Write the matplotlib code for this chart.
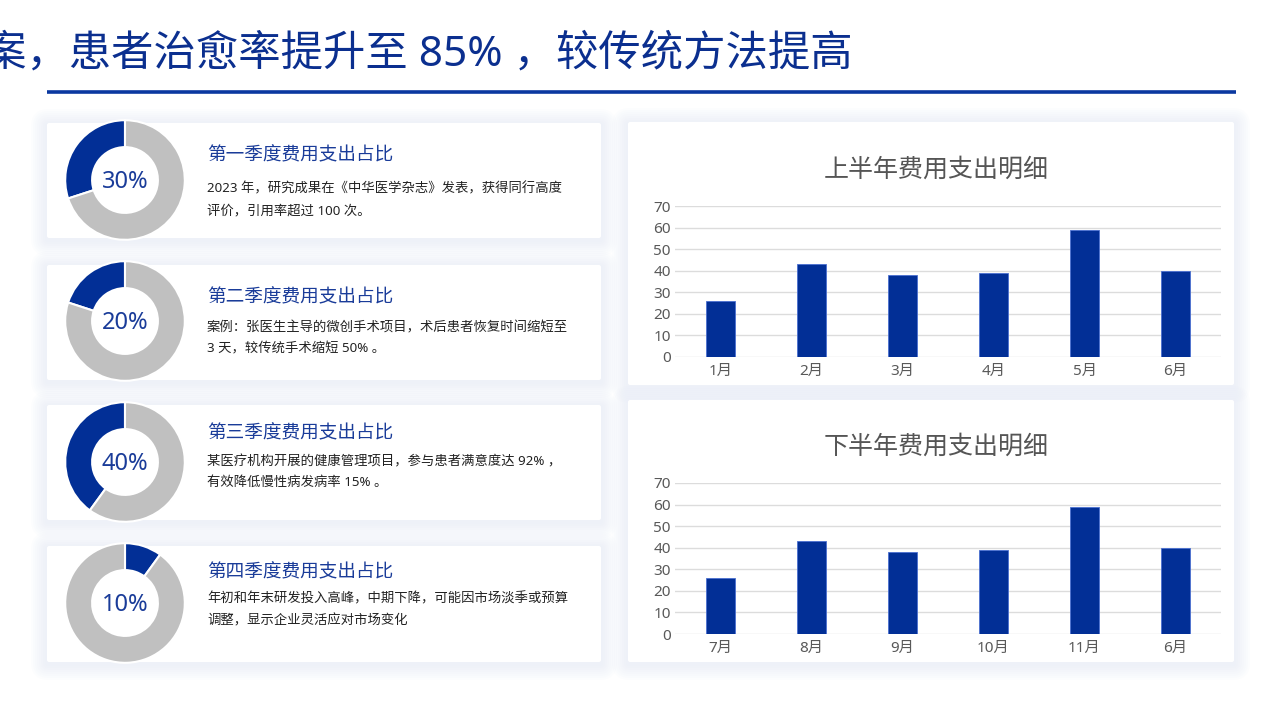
import numpy as np
import matplotlib
matplotlib.use("Agg")
import matplotlib.pyplot as plt
from matplotlib.patches import FancyBboxPatch

plt.rcParams['font.family'] = ['Noto Sans', 'Noto Sans CJK SC', 'DejaVu Sans']

W, H = 1280, 719

title = "案，患者治愈率提升至 85% ，较传统方法提高"

# quarterly donut cards
q_titles = ["第一季度费用支出占比", "第二季度费用支出占比",
            "第三季度费用支出占比", "第四季度费用支出占比"]
q_pcts = [30, 20, 40, 10]
q_ccw = [True, True, True, False]
q_texts = [
    ["2023 年，研究成果在《中华医学杂志》发表，获得同行高度", "评价，引用率超过 100 次。"],
    ["案例：张医生主导的微创手术项目，术后患者恢复时间缩短至", "3 天，较传统手术缩短 50% 。"],
    ["某医疗机构开展的健康管理项目，参与患者满意度达 92% ，", "有效降低慢性病发病率 15% 。"],
    ["年初和年末研发投入高峰，中期下降，可能因市场淡季或预算", "调整，显示企业灵活应对市场变化"],
]

# bar charts
h1_title = "上半年费用支出明细"
h1_months = ["1月", "2月", "3月", "4月", "5月", "6月"]
h1_values = [26, 43, 38, 39, 59, 40]
h2_title = "下半年费用支出明细"
h2_months = ["7月", "8月", "9月", "10月", "11月", "6月"]
h2_values = [26, 43, 38, 39, 59, 40]

BLUE = "#022f96"
TXT_BLUE = "#1a3c99"
GREY = "#c0c0c0"


def fx(x):
    return x / W


def fy(y):
    return 1 - y / H


def add_axes(x, y, w, h):
    return fig.add_axes([x / W, 1 - (y + h) / H, w / W, h / H])


fig = plt.figure(figsize=(12.8, 7.19), dpi=100)
fig.patch.set_facecolor("white")

# background layer in pixel coordinates
bg = fig.add_axes([0, 0, 1, 1], zorder=0)
bg.set_xlim(0, W)
bg.set_ylim(H, 0)
bg.axis("off")


def card(x0, y0, x1, y1):
    # soft shadow: many faint layers
    for pad in range(16, 0, -2):
        bg.add_patch(FancyBboxPatch((x0 - pad, y0 - pad + 2), x1 - x0 + 2 * pad, y1 - y0 + 2 * pad,
                                    boxstyle=f"round,pad=0,rounding_size={pad + 2}",
                                    fc="#e4e9f8", ec="none", alpha=0.09))
    bg.add_patch(FancyBboxPatch((x0, y0), x1 - x0, y1 - y0,
                                boxstyle="round,pad=0,rounding_size=2",
                                fc="white", ec="none"))


card_rows = [(123, 238), (265, 380), (405, 520), (546, 662)]
for y0, y1 in card_rows:
    card(47, y0, 601, y1)
card(628, 122, 1234, 385)
card(628, 400, 1234, 662)

# title + rule
fig.text(fx(853), fy(55), title, ha="right", va="center", fontsize=30.5,
         color="#0b2f8f")
bg.plot([47, 1236], [92, 92], color="#0a38a0", lw=2.6, solid_capstyle="butt")

# donuts and card text
heading_y = [155, 297, 433, 572]
body_y = [(189, 211), (328, 349), (462, 482), (599, 621)]
donut_cy = [180, 321, 462, 603]
for i in range(4):
    ax = add_axes(125 - 61, donut_cy[i] - 61, 122, 122)
    ax.pie([q_pcts[i], 100 - q_pcts[i]], colors=[BLUE, GREY], startangle=90,
           counterclock=q_ccw[i], radius=1.0,
           wedgeprops=dict(width=0.45, edgecolor="white", linewidth=1.5))
    ax.set_xlim(-1.02, 1.02)
    ax.set_ylim(-1.02, 1.02)
    ax.text(0, -0.03, f"{q_pcts[i]}%", ha="center", va="center", fontsize=17,
            color=TXT_BLUE)

    fig.text(fx(207), fy(heading_y[i]), q_titles[i], ha="left", va="center",
             fontsize=13.4, color=TXT_BLUE)
    for line, yy in zip(q_texts[i], body_y[i]):
        fig.text(fx(207), fy(yy), line, ha="left", va="center",
                 fontsize=9.6, color="#222222")


def bar_chart(top, title_y, months, values, title_txt):
    ax = add_axes(675, top, 546, 151)
    x = np.arange(len(months))
    ax.bar(x, values, width=0.31, color=BLUE, edgecolor="#4a6fd0", linewidth=0.6, zorder=3)
    ax.set_xlim(-0.5, len(months) - 0.5)
    ax.set_ylim(0, 70)
    ax.set_yticks(range(0, 71, 10))
    ax.set_xticks(x)
    ax.set_xticklabels(months)
    ax.grid(axis="y", color="#dcdcdc", lw=1, zorder=0)
    for s in ax.spines.values():
        s.set_visible(False)
    ax.tick_params(length=0, labelsize=11, labelcolor="#595959")
    ax.tick_params(axis="x", pad=5)
    ax.tick_params(axis="y", pad=3)
    ax.set_facecolor("none")
    fig.text(fx(936), fy(title_y), title_txt, ha="center", va="center",
             fontsize=18, color="#555555")


bar_chart(206, 170, h1_months, h1_values, h1_title)
bar_chart(483, 447, h2_months, h2_values, h2_title)

fig.savefig("out.png", dpi=100, facecolor="white")
